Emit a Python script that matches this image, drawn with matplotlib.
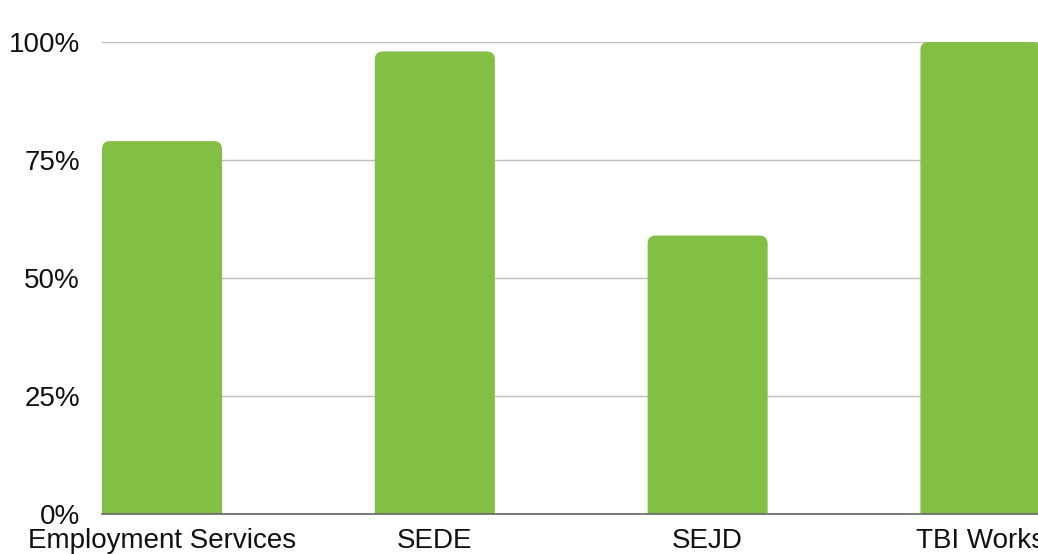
import numpy as np
import matplotlib
matplotlib.use('Agg')
import matplotlib.pyplot as plt
from matplotlib.patches import FancyBboxPatch
from matplotlib.ticker import FuncFormatter

categories = ['Employment Services', 'SEDE', 'SEJD', 'TBI Works']
values = [79, 98, 59, 100]

plt.rcParams['font.family'] = ['Liberation Sans', 'DejaVu Sans']

fig = plt.figure(figsize=(10.38, 5.54), dpi=100)
ax = fig.add_axes([102 / 1038, 1 - 514 / 554, 1 - 102 / 1038, (514 - 42) / 554])

bar_color = '#84bf45'
width = 0.44
xs = np.arange(len(categories))

ax.set_xlim(-0.22, 3.211)
ax.set_ylim(0, 100)

# y units per x unit in screen terms, so the corners come out round
x_per_px = (3.211 + 0.22) / (1038 - 102)
y_per_px = 100 / 472
aspect = y_per_px / x_per_px
radius = 8 * x_per_px

for x, v in zip(xs, values):
    # start below zero so the lower rounded corners are hidden
    patch = FancyBboxPatch((x - width / 2, -10), width, v + 10,
                           boxstyle=f'round,pad=0,rounding_size={radius}',
                           mutation_aspect=aspect,
                           facecolor=bar_color, edgecolor='none', zorder=2)
    ax.add_patch(patch)

ax.set_yticks([0, 25, 50, 75, 100])
ax.yaxis.set_major_formatter(FuncFormatter(lambda v, p: f'{v:.0f}%'))
ax.set_xticks(xs)
ax.set_xticklabels(categories)

ax.grid(axis='y', color='#bdbdbd', linewidth=1, zorder=0)
ax.set_axisbelow(True)
for s in ['top', 'right', 'left']:
    ax.spines[s].set_visible(False)
ax.spines['bottom'].set_color('#666666')
ax.spines['bottom'].set_linewidth(1.2)
ax.spines['bottom'].set_zorder(3)

ax.tick_params(axis='both', length=0, labelsize=20, colors='#111111')
ax.tick_params(axis='y', pad=16)
ax.tick_params(axis='x', pad=10)

fig.savefig('out.png', dpi=100)
